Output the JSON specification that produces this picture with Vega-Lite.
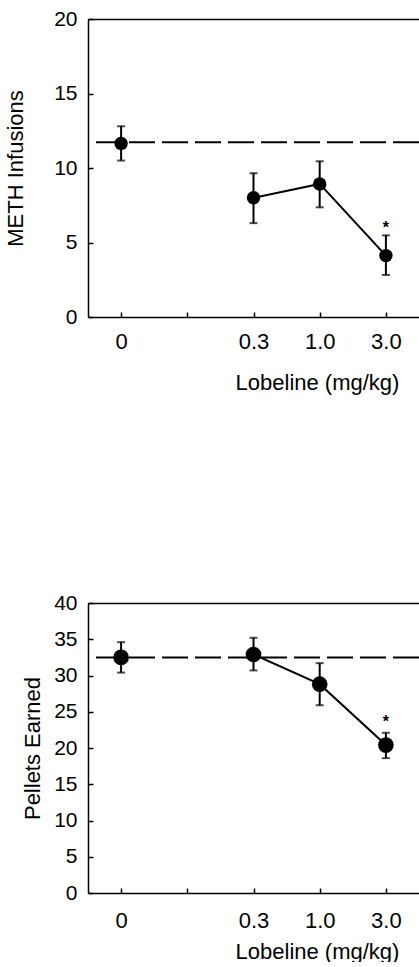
{
  "$schema": "https://vega.github.io/schema/vega-lite/v6.json",
  "padding": {"left": 4, "top": 8, "right": 0, "bottom": 0},
  "bounds": "flush",
  "spacing": 286,
  "datasets": {
    "meth": [
      {"dose": "0", "mean": 11.65, "lo": 10.5, "hi": 12.8, "sig": ""},
      {"dose": "0.3", "mean": 8.0, "lo": 6.3, "hi": 9.65, "sig": ""},
      {"dose": "1.0", "mean": 8.93, "lo": 7.36, "hi": 10.45, "sig": ""},
      {"dose": "3.0", "mean": 4.12, "lo": 2.82, "hi": 5.48, "sig": "*"}
    ],
    "methBase": [{"baseline": 11.72}],
    "pellets": [
      {"dose": "0", "mean": 32.5, "lo": 30.4, "hi": 34.6, "sig": ""},
      {"dose": "0.3", "mean": 32.9, "lo": 30.7, "hi": 35.2, "sig": ""},
      {"dose": "1.0", "mean": 28.8, "lo": 25.9, "hi": 31.7, "sig": ""},
      {"dose": "3.0", "mean": 20.4, "lo": 18.6, "hi": 22.1, "sig": "*"}
    ],
    "pelletBase": [{"baseline": 32.5}]
  },
  "vconcat": [
    {
      "width": 331,
      "height": 298,
      "resolve": {"axis": {"x": "independent"}},
      "layer": [
        {
          "data": {"name": "methBase"},
          "mark": {"type": "rule", "color": "black", "strokeWidth": 2, "strokeDash": [26, 7]},
          "encoding": {
            "y": {"field": "baseline", "type": "quantitative", "title": "METH Infusions", "scale": {"domain": [0, 20]},
              "axis": {"values": [0, 5, 10, 15, 20], "tickSize": -5, "labelPadding": 16, "titlePadding": 26}}
          }
        },
        {
          "data": {"name": "meth"},
          "transform": [{"filter": "datum.dose != '0'"}],
          "mark": {"type": "line", "color": "black", "strokeWidth": 2},
          "encoding": {
            "x": {"field": "dose", "type": "ordinal", "sort": null,
              "scale": {"type": "point", "domain": ["0", " ", "0.3", "1.0", "3.0"], "paddingOuter": 1},
              "axis": {"orient": "bottom", "title": "Lobeline (mg/kg)", "labelAngle": 0, "labelFontSize": 22, "tickSize": -5, "labelPadding": 19, "titlePadding": 20, "titleX": 229}},
            "y": {"field": "mean", "type": "quantitative", "title": "METH Infusions", "scale": {"domain": [0, 20]},
              "axis": {"values": [0, 5, 10, 15, 20], "tickSize": -5, "labelPadding": 16, "titlePadding": 26}}
          }
        },
        {
          "data": {"name": "meth"},
          "mark": {"type": "rule", "color": "black", "strokeWidth": 2},
          "encoding": {
            "x": {"field": "dose", "type": "ordinal", "axis": null,
              "scale": {"type": "point", "domain": ["0", " ", "0.3", "1.0", "3.0"], "paddingOuter": 1}},
            "y": {"field": "lo", "type": "quantitative", "title": "METH Infusions",
              "axis": {"values": [0, 5, 10, 15, 20], "tickSize": -5, "labelPadding": 16, "titlePadding": 26}},
            "y2": {"field": "hi"}
          }
        },
        {
          "data": {"name": "meth"},
          "mark": {"type": "tick", "color": "black", "size": 8, "thickness": 2, "orient": "horizontal"},
          "encoding": {
            "x": {"field": "dose", "type": "ordinal", "axis": null,
              "scale": {"type": "point", "domain": ["0", " ", "0.3", "1.0", "3.0"], "paddingOuter": 1}},
            "y": {"field": "hi", "type": "quantitative", "title": "METH Infusions",
              "axis": {"values": [0, 5, 10, 15, 20], "tickSize": -5, "labelPadding": 16, "titlePadding": 26}}
          }
        },
        {
          "data": {"name": "meth"},
          "mark": {"type": "tick", "color": "black", "size": 8, "thickness": 2, "orient": "horizontal"},
          "encoding": {
            "x": {"field": "dose", "type": "ordinal", "axis": null,
              "scale": {"type": "point", "domain": ["0", " ", "0.3", "1.0", "3.0"], "paddingOuter": 1}},
            "y": {"field": "lo", "type": "quantitative", "title": "METH Infusions",
              "axis": {"values": [0, 5, 10, 15, 20], "tickSize": -5, "labelPadding": 16, "titlePadding": 26}}
          }
        },
        {
          "data": {"name": "meth"},
          "mark": {"type": "point", "shape": "circle", "filled": true, "color": "black", "opacity": 1, "size": 180},
          "encoding": {
            "x": {"field": "dose", "type": "ordinal",
              "scale": {"type": "point", "domain": ["0", " ", "0.3", "1.0", "3.0"], "paddingOuter": 1},
              "axis": {"orient": "top", "title": null, "labels": false, "ticks": false, "domain": true}},
            "y": {"field": "mean", "type": "quantitative", "title": "METH Infusions",
              "axis": {"values": [0, 5, 10, 15, 20], "tickSize": -5, "labelPadding": 16, "titlePadding": 26}}
          }
        },
        {
          "data": {"name": "meth"},
          "mark": {"type": "text", "color": "black", "fontSize": 16, "fontWeight": "bold", "font": "Liberation Sans", "dy": -7, "baseline": "middle"},
          "encoding": {
            "x": {"field": "dose", "type": "ordinal", "axis": null,
              "scale": {"type": "point", "domain": ["0", " ", "0.3", "1.0", "3.0"], "paddingOuter": 1}},
            "y": {"field": "hi", "type": "quantitative", "title": "METH Infusions",
              "axis": {"values": [0, 5, 10, 15, 20], "tickSize": -5, "labelPadding": 16, "titlePadding": 26}},
            "text": {"field": "sig"}
          }
        }
      ]
    },
    {
      "width": 331,
      "height": 290,
      "resolve": {"axis": {"x": "independent"}},
      "layer": [
        {
          "data": {"name": "pelletBase"},
          "mark": {"type": "rule", "color": "black", "strokeWidth": 2, "strokeDash": [26, 7]},
          "encoding": {
            "y": {"field": "baseline", "type": "quantitative", "title": "Pellets Earned", "scale": {"domain": [0, 40]},
              "axis": {"values": [0, 5, 10, 15, 20, 25, 30, 35, 40], "tickSize": -5, "labelPadding": 16, "titlePadding": 9}}
          }
        },
        {
          "data": {"name": "pellets"},
          "transform": [{"filter": "datum.dose != '0'"}],
          "mark": {"type": "line", "color": "black", "strokeWidth": 2},
          "encoding": {
            "x": {"field": "dose", "type": "ordinal", "sort": null,
              "scale": {"type": "point", "domain": ["0", " ", "0.3", "1.0", "3.0"], "paddingOuter": 1},
              "axis": {"orient": "bottom", "title": "Lobeline (mg/kg)", "labelAngle": 0, "labelFontSize": 22, "tickSize": -5, "labelPadding": 22, "titlePadding": 10, "titleX": 229}},
            "y": {"field": "mean", "type": "quantitative", "title": "Pellets Earned", "scale": {"domain": [0, 40]},
              "axis": {"values": [0, 5, 10, 15, 20, 25, 30, 35, 40], "tickSize": -5, "labelPadding": 16, "titlePadding": 9}}
          }
        },
        {
          "data": {"name": "pellets"},
          "mark": {"type": "rule", "color": "black", "strokeWidth": 2},
          "encoding": {
            "x": {"field": "dose", "type": "ordinal", "axis": null,
              "scale": {"type": "point", "domain": ["0", " ", "0.3", "1.0", "3.0"], "paddingOuter": 1}},
            "y": {"field": "lo", "type": "quantitative", "title": "Pellets Earned",
              "axis": {"values": [0, 5, 10, 15, 20, 25, 30, 35, 40], "tickSize": -5, "labelPadding": 16, "titlePadding": 9}},
            "y2": {"field": "hi"}
          }
        },
        {
          "data": {"name": "pellets"},
          "mark": {"type": "tick", "color": "black", "size": 8, "thickness": 2, "orient": "horizontal"},
          "encoding": {
            "x": {"field": "dose", "type": "ordinal", "axis": null,
              "scale": {"type": "point", "domain": ["0", " ", "0.3", "1.0", "3.0"], "paddingOuter": 1}},
            "y": {"field": "hi", "type": "quantitative", "title": "Pellets Earned",
              "axis": {"values": [0, 5, 10, 15, 20, 25, 30, 35, 40], "tickSize": -5, "labelPadding": 16, "titlePadding": 9}}
          }
        },
        {
          "data": {"name": "pellets"},
          "mark": {"type": "tick", "color": "black", "size": 8, "thickness": 2, "orient": "horizontal"},
          "encoding": {
            "x": {"field": "dose", "type": "ordinal", "axis": null,
              "scale": {"type": "point", "domain": ["0", " ", "0.3", "1.0", "3.0"], "paddingOuter": 1}},
            "y": {"field": "lo", "type": "quantitative", "title": "Pellets Earned",
              "axis": {"values": [0, 5, 10, 15, 20, 25, 30, 35, 40], "tickSize": -5, "labelPadding": 16, "titlePadding": 9}}
          }
        },
        {
          "data": {"name": "pellets"},
          "mark": {"type": "point", "shape": "circle", "filled": true, "color": "black", "opacity": 1, "size": 245},
          "encoding": {
            "x": {"field": "dose", "type": "ordinal",
              "scale": {"type": "point", "domain": ["0", " ", "0.3", "1.0", "3.0"], "paddingOuter": 1},
              "axis": {"orient": "top", "title": null, "labels": false, "ticks": false, "domain": true}},
            "y": {"field": "mean", "type": "quantitative", "title": "Pellets Earned",
              "axis": {"values": [0, 5, 10, 15, 20, 25, 30, 35, 40], "tickSize": -5, "labelPadding": 16, "titlePadding": 9}}
          }
        },
        {
          "data": {"name": "pellets"},
          "mark": {"type": "text", "color": "black", "fontSize": 16, "fontWeight": "bold", "font": "Liberation Sans", "dy": -11, "baseline": "middle"},
          "encoding": {
            "x": {"field": "dose", "type": "ordinal", "axis": null,
              "scale": {"type": "point", "domain": ["0", " ", "0.3", "1.0", "3.0"], "paddingOuter": 1}},
            "y": {"field": "hi", "type": "quantitative", "title": "Pellets Earned",
              "axis": {"values": [0, 5, 10, 15, 20, 25, 30, 35, 40], "tickSize": -5, "labelPadding": 16, "titlePadding": 9}},
            "text": {"field": "sig"}
          }
        }
      ]
    }
  ],
  "config": {
    "view": {"stroke": null},
    "font": "Liberation Sans",
    "axis": {
      "grid": false,
      "labelFont": "Liberation Sans",
      "labelFontSize": 21,
      "labelColor": "black",
      "titleFont": "Liberation Sans",
      "titleFontSize": 22,
      "titleFontWeight": "normal",
      "titleColor": "black",
      "domainColor": "black",
      "domainWidth": 1.5,
      "tickColor": "black",
      "tickWidth": 1.5
    }
  }
}
